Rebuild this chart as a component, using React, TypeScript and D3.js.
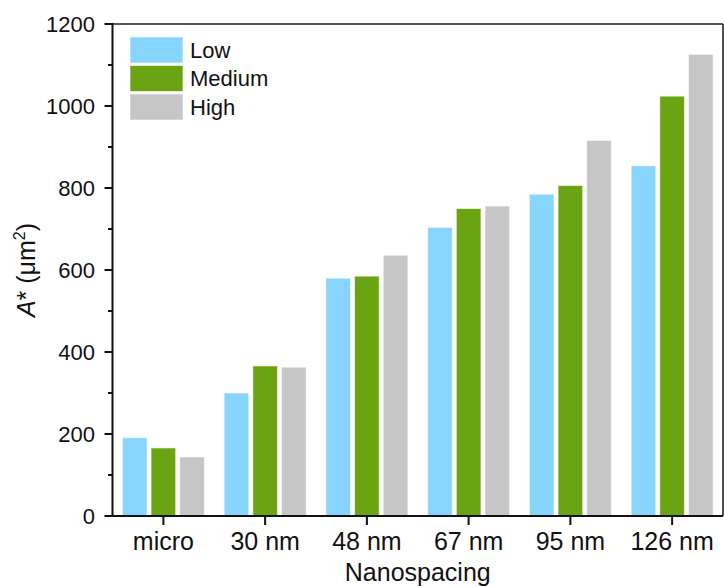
import React from "react";
import * as d3 from "d3";

// Nanospacing categories and the three series (A* in µm²)
const categories = ["micro", "30 nm", "48 nm", "67 nm", "95 nm", "126 nm"];
const seriesNames = ["Low", "Medium", "High"];
const lowValues = [191, 300, 580, 704, 785, 854];
const mediumValues = [166, 366, 585, 750, 806, 1024];
const highValues = [144, 363, 636, 756, 916, 1126];
const seriesColors = ["#87D4FD", "#6BA413", "#C6C6C6"];
const yTicks = [0, 200, 400, 600, 800, 1000, 1200];
const yMinorTicks = [100, 300, 500, 700, 900, 1100];

const W = 724;
const H = 587;
const left = 112.5;
const right = 723;
const top = 24;
const bottom = 516;
const FONT = "'Liberation Sans', Arial, sans-serif";

export default function App() {
  const values = [lowValues, mediumValues, highValues];
  const x = d3.scaleBand<string>().domain(categories).range([left, right]).padding(0);
  const xSub = d3
    .scaleBand<string>()
    .domain(seriesNames)
    .range([-41, 41])
    .paddingInner(0.14)
    .paddingOuter(0);
  const y = d3.scaleLinear().domain([0, 1200]).range([bottom, top]);

  return (
    <svg
      width={W}
      height={H}
      style={{ position: "fixed", left: 0, top: 0, display: "block", background: "#fff" }}
      fontFamily={FONT}
    >
      {/* bars */}
      {categories.map((c, i) => {
        const cx = (x(c) as number) + x.bandwidth() / 2;
        return seriesNames.map((s, j) => {
          const v = values[j][i];
          return (
            <rect
              key={c + s}
              x={cx + (xSub(s) as number)}
              y={y(v)}
              width={xSub.bandwidth()}
              height={y(0) - y(v)}
              fill={seriesColors[j]}
              stroke="#ffffff"
              strokeOpacity={0.6}
              strokeWidth={1}
            />
          );
        });
      })}

      {/* frame */}
      <line x1={left} x2={right} y1={top} y2={top} stroke="#222" strokeWidth={1.6} />
      <line x1={right} x2={right} y1={top} y2={bottom} stroke="#222" strokeWidth={1.6} />
      <line x1={left} x2={left} y1={top - 1} y2={bottom + 1} stroke="#111" strokeWidth={2} />
      <line x1={left - 1} x2={right} y1={bottom} y2={bottom} stroke="#111" strokeWidth={2} />

      {/* y axis ticks */}
      {yTicks.map((t) => (
        <g key={"y" + t}>
          <line x1={left - 8} x2={left} y1={y(t)} y2={y(t)} stroke="#111" strokeWidth={2} />
          <text
            x={95}
            y={y(t)}
            dy="0.36em"
            textAnchor="end"
            fontSize={22}
            fill="#111"
          >
            {t}
          </text>
        </g>
      ))}
      {yMinorTicks.map((t) => (
        <line key={"ym" + t} x1={left - 4.5} x2={left} y1={y(t)} y2={y(t)} stroke="#111" strokeWidth={2} />
      ))}

      {/* x axis ticks */}
      {categories.map((c) => {
        const cx = (x(c) as number) + x.bandwidth() / 2;
        return (
          <g key={"x" + c}>
            <line x1={cx} x2={cx} y1={bottom} y2={bottom + 9} stroke="#111" strokeWidth={2} />
            <text x={cx} y={550} textAnchor="middle" fontSize={25} fill="#111">
              {c}
            </text>
          </g>
        );
      })}

      {/* axis titles */}
      <text x={(left + right) / 2} y={581} textAnchor="middle" fontSize={25} fill="#111">
        Nanospacing
      </text>
      <text
        transform={`translate(35, ${(top + bottom) / 2}) rotate(-90)`}
        textAnchor="middle"
        fontSize={25}
        fill="#111"
      >
        <tspan fontStyle="italic">A</tspan>
        <tspan>* (μm</tspan>
        <tspan fontSize={16} dy={-10}>2</tspan>
        <tspan dy={10}>)</tspan>
      </text>

      {/* legend */}
      {seriesNames.map((s, j) => (
        <g key={"lg" + s} transform={`translate(130, ${37 + j * 28.5})`}>
          <rect
            width={53}
            height={26}
            fill={seriesColors[j]}
            stroke="#ffffff"
            strokeOpacity={0.6}
            strokeWidth={1}
          />
          <text x={60} y={13} dy="0.36em" fontSize={22} fill="#111">
            {s}
          </text>
        </g>
      ))}
    </svg>
  );
}
